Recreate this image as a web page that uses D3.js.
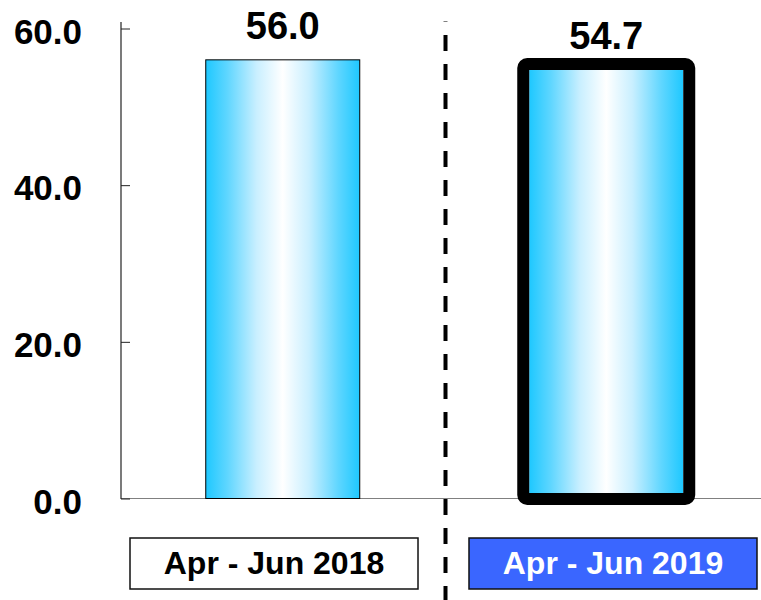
<!DOCTYPE html>
<html>
<head>
<meta charset="utf-8">
<script src="https://cdn.jsdelivr.net/npm/d3@7"></script>
<style>
  html, body { margin: 0; padding: 0; background: #ffffff; }
  svg { display: block; font-family: "Liberation Sans", Arial, sans-serif; }
</style>
</head>
<body>
<svg id="chart" width="761" height="600"></svg>
<script>
// Quarterly values
const categories = ["Apr - Jun 2018", "Apr - Jun 2019"];
const values = [56.0, 54.7];
const yTicks = [0, 20, 40, 60];
const highlighted = "Apr - Jun 2019";

const svg = d3.select("#chart");

const x = d3.scaleBand()
  .domain(categories)
  .range([121, 768])
  .paddingInner(0.524)
  .paddingOuter(0.262);

const y = d3.scaleLinear().domain([0, 60]).range([498.5, 28.5]);

// Category label boxes sit on their own band scale below the plot
const xLabel = d3.scaleBand()
  .domain(categories)
  .range([130, 757])
  .paddingInner(0.1504)
  .paddingOuter(0);

// Horizontal cyan-white-cyan gradient for the bars
const defs = svg.append("defs");
const grad = defs.append("linearGradient")
  .attr("id", "barGrad")
  .attr("x1", "0%").attr("x2", "100%")
  .attr("y1", "0%").attr("y2", "0%");
[
  [0, "#1ec8ff"], [0.14, "#5fd6ff"], [0.33, "#c9efff"],
  [0.5, "#ffffff"], [0.67, "#c9efff"], [0.86, "#5fd6ff"], [1, "#1ec8ff"]
].forEach(([o, c]) => grad.append("stop").attr("offset", o).attr("stop-color", c));

// X baseline
svg.append("line")
  .attr("x1", 121).attr("x2", 761)
  .attr("y1", y(0)).attr("y2", y(0))
  .attr("stroke", "#808080").attr("stroke-width", 1);

// Y axis with inward ticks
const yAxis = d3.axisLeft(y)
  .tickValues(yTicks)
  .tickSize(-9)
  .tickPadding(0)
  .tickFormat(d3.format(".1f"));

const gy = svg.append("g").attr("transform", "translate(121,0)").call(yAxis);
gy.select(".domain").remove();
gy.selectAll(".tick line").attr("stroke", "#222").attr("stroke-width", 1);
gy.selectAll(".tick text")
  .attr("x", -39)
  .attr("dy", "0.42em")
  .attr("fill", "#000")
  .attr("font-size", 35)
  .attr("font-weight", "bold")
  .attr("font-family", "'Liberation Sans', Arial, sans-serif");
gy.append("line")
  .attr("x1", 0).attr("x2", 0)
  .attr("y1", 22).attr("y2", y(0) + 0.5)
  .attr("stroke", "#222").attr("stroke-width", 1.2);

// Dashed divider between the two periods
svg.append("line")
  .attr("x1", 445.5).attr("x2", 445.5)
  .attr("y1", 21.5).attr("y2", 600)
  .attr("stroke", "#000")
  .attr("stroke-width", 4)
  .attr("stroke-dasharray", "16,13")
  .attr("stroke-dashoffset", 15.5);

// Bars
const data = categories.map((c, i) => ({ cat: c, value: values[i] }));

svg.selectAll("rect.bar")
  .data(data)
  .join("rect")
  .attr("class", "bar")
  .attr("x", d => x(d.cat))
  .attr("y", d => y(d.value))
  .attr("width", x.bandwidth())
  .attr("height", d => y(0) - y(d.value))
  .attr("fill", "url(#barGrad)")
  .attr("stroke", d => d.cat === highlighted ? "none" : "#000")
  .attr("stroke-width", 1);

// Heavy outline on the highlighted bar
svg.selectAll("rect.outline")
  .data(data.filter(d => d.cat === highlighted))
  .join("rect")
  .attr("class", "outline")
  .attr("x", d => x(d.cat) - 6)
  .attr("y", d => y(d.value) - 6)
  .attr("width", x.bandwidth() + 12)
  .attr("height", d => y(0) - y(d.value) + 6.5)
  .attr("rx", 4)
  .attr("fill", "none")
  .attr("stroke", "#000")
  .attr("stroke-width", 12);

// Value labels
svg.selectAll("text.value")
  .data(data)
  .join("text")
  .attr("class", "value")
  .attr("x", d => x(d.cat) + x.bandwidth() / 2)
  .attr("y", d => y(d.value) - 21)
  .attr("text-anchor", "middle")
  .attr("font-size", 38)
  .attr("font-weight", "bold")
  .attr("fill", "#000")
  .text(d => d3.format(".1f")(d.value));

// Category boxes
const boxes = svg.selectAll("g.catbox")
  .data(categories)
  .join("g")
  .attr("class", "catbox");

boxes.append("rect")
  .attr("x", d => xLabel(d))
  .attr("y", 538)
  .attr("width", xLabel.bandwidth())
  .attr("height", 51)
  .attr("fill", d => d === highlighted ? "#3a66ff" : "#ffffff")
  .attr("stroke", "#111")
  .attr("stroke-width", 1.5);

boxes.append("text")
  .attr("x", d => xLabel(d) + xLabel.bandwidth() / 2)
  .attr("y", 574)
  .attr("text-anchor", "middle")
  .attr("font-size", 32)
  .attr("font-weight", "bold")
  .attr("fill", d => d === highlighted ? "#ffffff" : "#000000")
  .text(d => d);
</script>
</body>
</html>
